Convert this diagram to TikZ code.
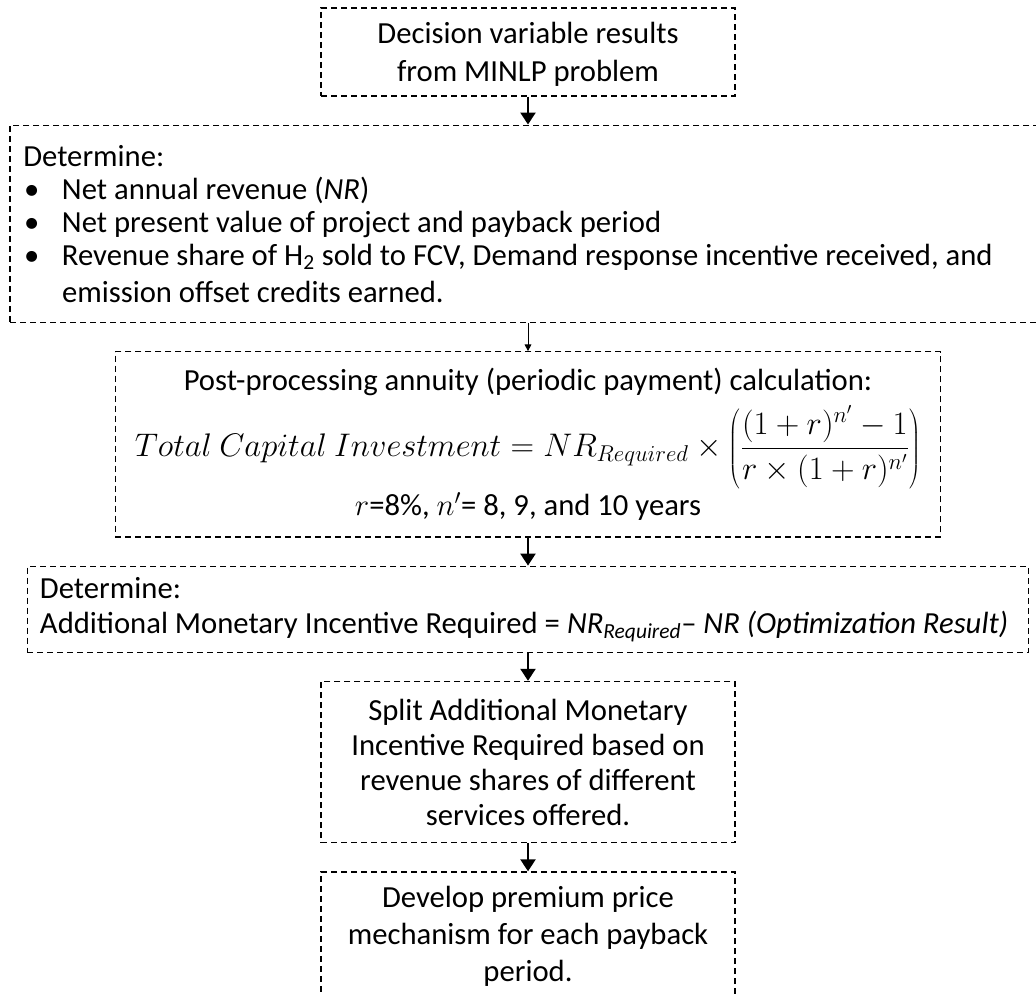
\documentclass[tikz,border=0pt]{standalone}
\usepackage{fix-cm}
\usepackage{fontspec}
\setmainfont{Carlito}
\usetikzlibrary{positioning}
\usetikzlibrary{arrows.meta}
\newcommand{\bul}{\makebox[29pt][l]{\hspace{0.5pt}\textbullet}}
\tikzset{node distance=21pt, % gap between two steps
every node/.style={ % text of each step
font=\fontsize{23}{26.5}\selectfont},
dashbox/.style={ % dashed frame of each step
draw,
dash pattern=on 4.5pt off 3pt,
line width=0.9pt,
inner sep=0pt},
flow/.style={ % thick connector between steps
draw,
line width=2.2pt,
-{Triangle[length=9pt,width=11pt]}},
thinflow/.style={ % thin connector
draw,
line width=0.75pt,
-{Triangle[length=5pt,width=5pt]}}}

\begin{document}
\begin{tikzpicture}[x=0.75pt,y=-0.75pt]
  \useasboundingbox (0,0) rectangle (1036,994);
  \clip (0,0) rectangle (1036,994);
  \node[dashbox,minimum width=310.5pt,minimum height=66pt,align=center,
        font=\fontsize{23}{28.5}\selectfont] (results) at (528,52)
        {\strut Decision variable results\\from MINLP problem};
  \node[dashbox,minimum width=777pt,minimum height=148pt,text width=757pt,align=flush left,
        font=\fontsize{23}{24.75}\selectfont] (determine) [below=of results]
        {Determine:\\
         \bul Net annual revenue (\textit{NR})\\
         \bul Net present value of project and payback period\\
         \bul Revenue share of H\textsubscript{2} sold to FCV, Demand response incentive received, and\\[3pt]
         \hspace*{29pt}emission offset credits earned.};
  \node[dashbox,minimum width=619pt,minimum height=139pt,align=center] (annuity) [below=of determine]
        {Post-processing annuity (periodic payment) calculation:\\[6pt]
         {\fontsize{24.5}{28}\selectfont
         $\displaystyle Total\ Capital\ Investment = NR_{Required}\times\left(\frac{(1+r)^{n'}-1}{r\times(1+r)^{n'}}\right)$}\\[2pt]
         $r$=8\%, $n'$= 8, 9, and 10 years};
  \node[dashbox,minimum width=751pt,minimum height=64.5pt,text width=732pt,align=flush left] (incentive) [below=of annuity]
        {Determine:\\
         Additional Monetary Incentive Required = \textit{NR\textsubscript{Required}}-- \textit{NR (Optimization Result)}};
  \node[dashbox,minimum width=310.5pt,minimum height=121pt,align=center,
        font=\fontsize{23}{26.25}\selectfont] (split) [below=of incentive]
        {Split Additional Monetary\\Incentive Required based on\\revenue shares of different\\services offered.};
  \node[dashbox,minimum width=310.5pt,minimum height=96pt,align=center,
        font=\fontsize{23}{27.75}\selectfont] (premium) [below=of split]
        {Develop premium price\\mechanism for each payback\\period.};
  \draw[flow] (results) -- (determine);
  \draw[thinflow] (determine) -- (annuity);
  \draw[flow] (annuity) -- (incentive);
  \draw[flow] (incentive) -- (split);
  \draw[flow] (split) -- (premium);
\end{tikzpicture}
\end{document}
